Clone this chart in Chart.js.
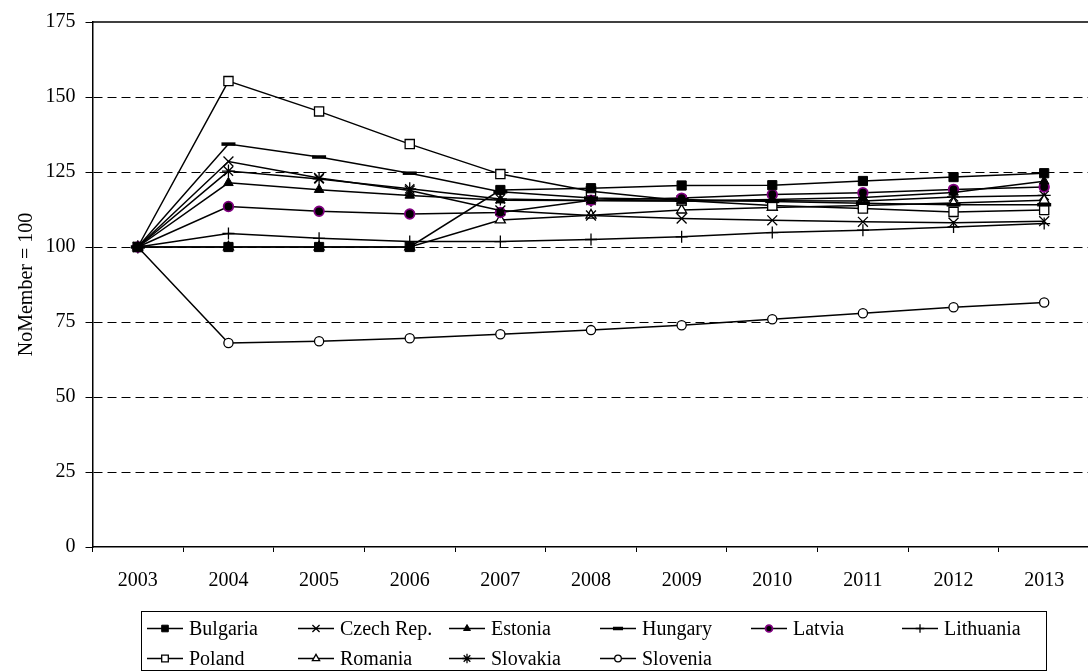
<!DOCTYPE html>
<html>
<head>
<meta charset="utf-8">
<script src="https://cdn.jsdelivr.net/npm/chart.js@4/dist/chart.umd.min.js"></script>
<style>
  html, body { margin: 0; padding: 0; background: #fff; overflow: hidden; }
  #wrap { width: 1088px; height: 671px; overflow: hidden; }
  canvas { display: block; }
</style>
</head>
<body>
<div id="wrap"><canvas id="c" width="1100" height="671"></canvas></div>
<script>
// Years on the horizontal axis
const years = ['2003', '2004', '2005', '2006', '2007', '2008', '2009', '2010', '2011', '2012', '2013'];

// Index values per country (NoMember = 100)
const bulgaria  = [100, 100,   100,   100,   119.0, 119.6, 120.5, 120.6, 122.0, 123.3, 124.6];
const czech     = [100, 128.5, 123.0, 118.8, 112.2, 110.5, 109.5, 108.9, 108.4, 108.1, 108.6];
const estonia   = [100, 121.4, 119.1, 117.2, 115.6, 115.5, 115.3, 115.8, 116.5, 118.2, 121.9];
const hungary   = [100, 134.3, 130.0, 124.6, 118.4, 116.3, 115.8, 115.2, 114.6, 114.1, 114.1];
const latvia    = [100, 113.5, 111.9, 111.0, 111.5, 115.6, 116.3, 117.5, 118.1, 119.2, 120.0];
const lithuania = [100, 104.5, 102.9, 101.8, 101.8, 102.5, 103.4, 104.8, 105.6, 106.7, 107.8];
const poland    = [100, 155.3, 145.2, 134.3, 124.3, 118.6, 115.5, 113.8, 112.8, 111.7, 112.3];
const romania   = [100, 100,   100,   100,   109.0, 110.6, 112.3, 113.2, 113.8, 114.7, 115.6];
const slovakia  = [100, 125.3, 122.7, 119.4, 116.0, 115.5, 115.3, 115.4, 115.3, 116.7, 117.2];
const slovenia  = [100, 68.0,  68.6,  69.6,  70.9,  72.3,  73.9,  75.9,  77.9,  79.9,  81.5];

// Y axis range and step
const yMin = 0, yMax = 175, yStep = 25;

const FONT = "'Liberation Serif', 'Times New Roman', Times, serif";
Chart.defaults.font.family = FONT;
Chart.defaults.color = '#000';

function series(label, data, style, radius, fill, border, bw) {
  return {
    label, data,
    borderColor: '#000',
    borderWidth: 1.5,
    tension: 0,
    fill: false,
    pointStyle: style,
    pointRadius: radius,
    pointHoverRadius: radius,
    pointBackgroundColor: fill,
    pointBorderColor: border,
    pointBorderWidth: bw
  };
}

const datasets = [
  series('Bulgaria',    bulgaria,  'rect',     6.5, '#000', '#000', 1),
  series('Czech Rep.',  czech,     'crossRot', 7,   '#000', '#000', 1.3),
  series('Estonia',     estonia,   'triangle', 5.5, '#000', '#000', 1),
  series('Hungary',     hungary,   'line',     7,   '#000', '#000', 3.5),
  series('Latvia',      latvia,    'circle',   4.8, '#000', '#800080', 1.8),
  series('Lithuania',   lithuania, 'cross',    6,   '#000', '#000', 1.3),
  series('Poland',      poland,    'rect',     6.5, '#fff', '#000', 1.3),
  series('Romania',     romania,   'triangle', 5.8, '#fff', '#000', 1.3),
  series('Slovakia',    slovakia,  'star',     6.5, '#000', '#000', 1.3),
  series('Slovenia',    slovenia,  'circle',   4.6, '#fff', '#000', 1.3)
];

// Marker used in the boxed legend below the plot
function drawMarker(ctx, ds, x, y, scale) {
  const r = ds.pointRadius * scale;
  ctx.save();
  ctx.lineWidth = ds.pointBorderWidth;
  ctx.strokeStyle = ds.pointBorderColor;
  ctx.fillStyle = ds.pointBackgroundColor;
  ctx.beginPath();
  switch (ds.pointStyle) {
    case 'rect': {
      const s = r * Math.SQRT1_2;
      ctx.rect(x - s, y - s, 2 * s, 2 * s);
      ctx.fill(); ctx.stroke();
      break;
    }
    case 'triangle': {
      ctx.moveTo(x, y - r);
      ctx.lineTo(x + r * 0.866, y + r * 0.5);
      ctx.lineTo(x - r * 0.866, y + r * 0.5);
      ctx.closePath();
      ctx.fill(); ctx.stroke();
      break;
    }
    case 'circle': {
      ctx.arc(x, y, r, 0, Math.PI * 2);
      ctx.fill(); ctx.stroke();
      break;
    }
    case 'line': {
      ctx.moveTo(x - r, y); ctx.lineTo(x + r, y);
      ctx.stroke();
      break;
    }
    case 'cross': {
      ctx.moveTo(x - r, y); ctx.lineTo(x + r, y);
      ctx.moveTo(x, y - r); ctx.lineTo(x, y + r);
      ctx.stroke();
      break;
    }
    case 'crossRot': {
      const s = r * Math.SQRT1_2;
      ctx.moveTo(x - s, y - s); ctx.lineTo(x + s, y + s);
      ctx.moveTo(x - s, y + s); ctx.lineTo(x + s, y - s);
      ctx.stroke();
      break;
    }
    case 'star': {
      const s = r * Math.SQRT1_2;
      ctx.moveTo(x - r, y); ctx.lineTo(x + r, y);
      ctx.moveTo(x, y - r); ctx.lineTo(x, y + r);
      ctx.moveTo(x - s, y - s); ctx.lineTo(x + s, y + s);
      ctx.moveTo(x - s, y + s); ctx.lineTo(x + s, y - s);
      ctx.stroke();
      break;
    }
  }
  ctx.restore();
}

const frameAndLegend = {
  id: 'frameAndLegend',
  afterDraw(chart) {
    const { ctx, chartArea } = chart;
    // solid top edge of the plot area
    ctx.save();
    ctx.strokeStyle = '#000';
    ctx.lineWidth = 1.5;
    ctx.beginPath();
    ctx.moveTo(chartArea.left, chartArea.top);
    ctx.lineTo(chartArea.right, chartArea.top);
    ctx.stroke();

    // legend box
    const box = { x: 141.5, y: 611.5, w: 905, h: 59 };
    ctx.lineWidth = 1;
    ctx.strokeStyle = '#000';
    ctx.strokeRect(box.x, box.y, box.w, box.h);

    const colX = [147, 298, 449, 600, 751, 902];
    const rowY = [628.5, 658.5];
    ctx.font = '20px ' + FONT;
    ctx.textBaseline = 'middle';
    ctx.textAlign = 'left';
    ctx.fillStyle = '#000';
    chart.data.datasets.forEach((ds, i) => {
      const x = colX[i % 6], y = rowY[Math.floor(i / 6)];
      ctx.beginPath();
      ctx.lineWidth = 1.5;
      ctx.strokeStyle = '#000';
      ctx.moveTo(x, y); ctx.lineTo(x + 36, y);
      ctx.stroke();
      drawMarker(ctx, ds, x + 18, y, 0.72);
      ctx.fillStyle = '#000';
      ctx.fillText(ds.label, x + 42, y + 1);
    });
    ctx.restore();
  }
};

new Chart(document.getElementById('c'), {
  type: 'line',
  data: { labels: years, datasets },
  options: {
    responsive: false,
    animation: false,
    layout: { padding: { top: 18.7, right: 3, bottom: 84, left: 0 } },
    plugins: { legend: { display: false }, tooltip: { enabled: false } },
    scales: {
      x: {
        type: 'category',
        offset: true,
        grid: {
          display: true,
          offset: true,
          drawOnChartArea: false,
          drawTicks: true,
          tickLength: 5,
          tickColor: '#000',
          tickWidth: 1
        },
        border: { display: true, color: '#000', width: 1.5 },
        ticks: {
          color: '#000',
          font: { family: FONT, size: 20 },
          padding: 17,
          maxRotation: 0,
          autoSkip: false
        },
        afterFit(scale) { scale.height = 40; }
      },
      y: {
        min: yMin,
        max: yMax,
        ticks: {
          stepSize: yStep,
          color: '#000',
          font: { family: FONT, size: 20 },
          padding: 10
        },
        grid: {
          color: (c) => (c.tick && (c.tick.value === yMin || c.tick.value === yMax)) ? 'rgba(0,0,0,0)' : '#000',
          lineWidth: 1,
          drawTicks: true,
          tickLength: 7,
          tickColor: '#000',
          tickWidth: 1
        },
        border: { display: true, color: '#000', width: 1.5, dash: [9, 5] },
        title: {
          display: true,
          text: 'NoMember = 100',
          color: '#000',
          font: { family: FONT, size: 20, lineHeight: 1 },
          padding: { top: 17, bottom: 0 }
        },
        afterFit(scale) { scale.width = 92.5; }
      }
    }
  },
  plugins: [frameAndLegend]
});
</script>
</body>
</html>
